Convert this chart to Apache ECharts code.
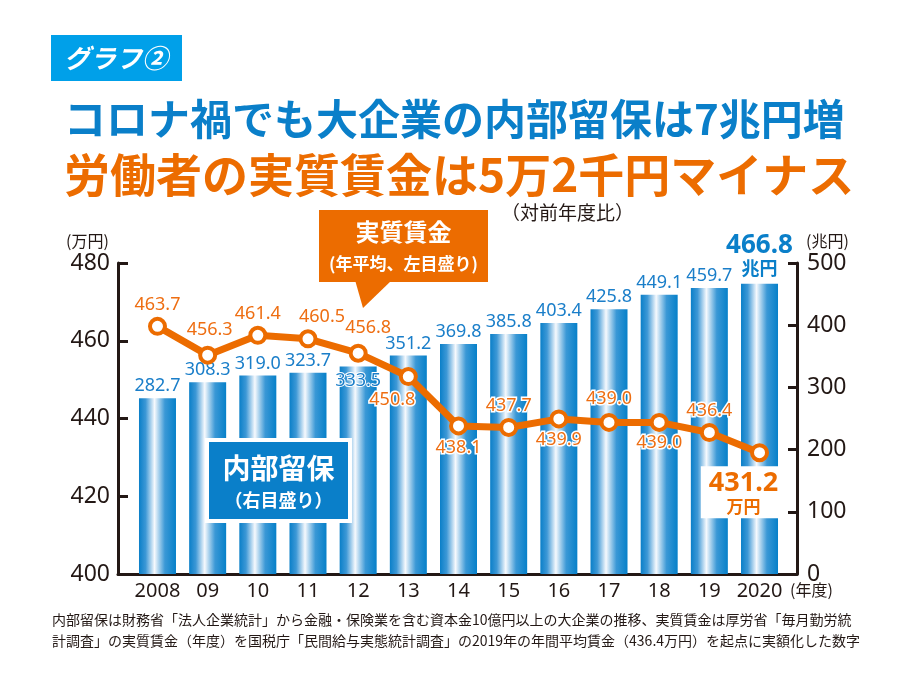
<!DOCTYPE html>
<html><head><meta charset="utf-8">
<script src="https://cdn.jsdelivr.net/npm/echarts@6/dist/echarts.min.js"></script>
<style>html,body{margin:0;padding:0;background:#fff}#c{width:902px;height:689px}</style>
</head><body><div id="c"></div>
<script>
const years = ['2008','09','10','11','12','13','14','15','16','17','18','19','2020'];
const reserves = [282.7,308.3,319.0,323.7,333.5,351.2,369.8,385.8,403.4,425.8,449.1,459.7,466.8];
const wages = [463.7,456.3,461.4,460.5,456.8,450.8,438.1,437.7,439.9,439.0,439.0,436.4,431.2];
const leftTicks = [400,420,440,460,480];
const rightTicks = [0,100,200,300,400,500];

// label placement (style only)
const wageLabelPos = ['top','top','top','top','top','bottom','bottom','top','bottom','top','bottom','top','bottom'];
const wageLabelOff = [[0,2],[2,-2],[0,2],[14,2],[10,-2],[-16,0],[0,-2],[0,2],[0,-3],[0,0],[0,-3],[0,2],[-16,-2]];

const BLUE = '#0a7fc9', ORANGE = '#ec6c00', DARK = '#231815';
const FONT = '"Noto Sans CJK JP", "Noto Sans", sans-serif';
const NUMF = '"Noto Sans", "Noto Sans CJK JP", sans-serif';

const chart = echarts.init(document.getElementById('c'), null, {renderer:'canvas'});
const barGrad = new echarts.graphic.LinearGradient(0,0,1,0,[
  {offset:0,color:'#0a7fc8'},{offset:0.18,color:'#3d98d6'},{offset:0.42,color:'#f6f9fd'},{offset:0.7,color:'#3a98d6'},{offset:1,color:'#0680c9'}]);

const last = years.length-1;
const barData = reserves.map((v,i)=>{
  if(i===last) return {value:v,label:{formatter:'{a|'+v.toFixed(1)+'}\n{b|兆円}',distance:4}};
  if(i===4) return {value:v,label:{position:'insideTop',distance:5}};
  return v;
});
const lineData = wages.map((v,i)=>{
  if(i===last) return {value:v,label:{position:'bottom',offset:wageLabelOff[i],distance:6,
    backgroundColor:'#fff',padding:[4,8,2,8],lineHeight:22,
    formatter:'{a|'+v.toFixed(1)+'}\n{b|万円}',
    rich:{a:{fontSize:27,fontWeight:'bold',color:ORANGE,fontFamily:NUMF,lineHeight:26},
          b:{fontSize:17,fontWeight:'bold',color:ORANGE,fontFamily:FONT,lineHeight:20}}}};
  return {value:v,label:{position:wageLabelPos[i],offset:wageLabelOff[i]}};
});

const option = {
  animation:false,
  textStyle:{fontFamily:FONT},
  grid:[
    {left:118,right:105,top:263,bottom:115},
    {left:132.4,right:117.4,top:263,bottom:115}
  ],
  xAxis:[
    {type:'value',gridIndex:0,min:0,max:1,axisLine:{show:true,onZero:false,lineStyle:{color:DARK,width:3}},
     axisTick:{show:false},axisLabel:{show:false},splitLine:{show:false}},
    {type:'category',gridIndex:1,data:years,axisLine:{show:false},axisTick:{show:false},
     axisLabel:{interval:0,color:DARK,fontSize:20,fontFamily:NUMF,margin:7}}
  ],
  yAxis:[
    {type:'value',gridIndex:0,position:'left',min:400,max:480,interval:20,
     axisLine:{show:true,lineStyle:{color:DARK,width:3}},
     axisTick:{show:true,inside:true,length:10,lineStyle:{color:DARK,width:3}},
     axisLabel:{color:DARK,fontSize:23,fontFamily:NUMF,margin:8,customValues:leftTicks},splitLine:{show:false}},
    {type:'value',gridIndex:0,position:'right',min:0,max:500,interval:100,
     axisLine:{show:true,lineStyle:{color:DARK,width:3}},
     axisTick:{show:true,inside:true,length:9,lineStyle:{color:DARK,width:3}},
     axisLabel:{color:DARK,fontSize:23,fontFamily:NUMF,margin:10,customValues:rightTicks},splitLine:{show:false}},
    {type:'value',gridIndex:1,min:400,max:480,show:false,splitLine:{show:false}},
    {type:'value',gridIndex:1,min:0,max:500,show:false,splitLine:{show:false}}
  ],
  series:[
    {type:'bar',xAxisIndex:1,yAxisIndex:3,data:barData,barWidth:37,
     itemStyle:{color:barGrad},
     label:{show:true,position:'top',distance:3,color:'#1a7ec9',fontSize:18,fontFamily:NUMF,
       formatter:p=>Number(p.value).toFixed(1),
       textBorderColor:'#fff',textBorderWidth:2,
       rich:{a:{fontSize:26,fontWeight:'bold',color:BLUE,fontFamily:NUMF,lineHeight:24},
             b:{fontSize:18,fontWeight:'bold',color:BLUE,fontFamily:FONT,lineHeight:22}}},
     z:2},
    {type:'line',xAxisIndex:1,yAxisIndex:2,data:lineData,
     lineStyle:{color:ORANGE,width:7},
     symbol:'circle',symbolSize:15,
     itemStyle:{color:'#fff',borderColor:ORANGE,borderWidth:4},
     label:{show:true,color:'#ee6e12',fontSize:18,fontFamily:NUMF,distance:5,
       formatter:p=>Number(p.value).toFixed(1),
       textBorderColor:'#fff',textBorderWidth:3},
     z:5}
  ],
  graphic:[
    {type:'rect',shape:{x:51,y:35,width:131,height:46},style:{fill:'#00a0e9'}},
    {type:'text',x:64,y:58,style:{text:'グラフ②',fill:'#fff',font:'italic bold 26px '+FONT,textVerticalAlign:'middle'}},
    {type:'text',x:64,y:119,style:{text:'コロナ禍でも大企業の内部留保は7兆円増',fill:'#0a7fc9',font:'bold 42px '+FONT,textVerticalAlign:'middle'}},
    {type:'text',x:64,y:175,style:{text:'労働者の実質賃金は5万2千円マイナス',fill:ORANGE,font:'bold 46px '+FONT,textVerticalAlign:'middle'}},
    {type:'text',x:501,y:213,style:{text:'（対前年度比）',fill:DARK,font:'19px '+FONT,textVerticalAlign:'middle'}},
    {type:'text',x:66,y:241,style:{text:'(万円)',fill:DARK,font:'16px '+FONT,textVerticalAlign:'middle'}},
    {type:'text',x:806,y:241,style:{text:'(兆円)',fill:DARK,font:'16px '+FONT,textVerticalAlign:'middle'}},
    {type:'text',x:790,y:590,style:{text:'(年度)',fill:DARK,font:'16px '+FONT,textVerticalAlign:'middle'}},
    // wage callout
    {type:'polygon',shape:{points:[[355,280],[392,280],[363,308]]},style:{fill:ORANGE},z:10},
    {type:'rect',shape:{x:319,y:210,width:169,height:72},style:{fill:ORANGE},z:10},
    {type:'text',x:403.5,y:232,z:11,style:{text:'実質賃金',fill:'#fff',font:'bold 24px '+FONT,textAlign:'center',textVerticalAlign:'middle'}},
    {type:'text',x:403.5,y:264,z:11,style:{text:'(年平均、左目盛り)',fill:'#fff',font:'bold 17px '+FONT,textAlign:'center',textVerticalAlign:'middle'}},
    // reserves callout
    {type:'rect',shape:{x:207,y:440,width:143,height:81},style:{fill:'#0a7fc9',stroke:'#fff',lineWidth:4},z:10},
    {type:'text',x:278.5,y:468,z:11,style:{text:'内部留保',fill:'#fff',font:'bold 28px '+FONT,textAlign:'center',textVerticalAlign:'middle'}},
    {type:'text',x:278.5,y:500,z:11,style:{text:'（右目盛り）',fill:'#fff',font:'bold 18px '+FONT,textAlign:'center',textVerticalAlign:'middle'}},
    // footnote
    {type:'text',x:52,y:620,style:{text:'内部留保は財務省「法人企業統計」から金融・保険業を含む資本金10億円以上の大企業の推移、実質賃金は厚労省「毎月勤労統',fill:DARK,font:'14px '+FONT,textVerticalAlign:'middle'}},
    {type:'text',x:52,y:641,style:{text:'計調査」の実質賃金（年度）を国税庁「民間給与実態統計調査」の2019年の年間平均賃金（436.4万円）を起点に実額化した数字',fill:DARK,font:'14px '+FONT,textVerticalAlign:'middle'}}
  ]
};
chart.setOption(option);
</script></body></html>
